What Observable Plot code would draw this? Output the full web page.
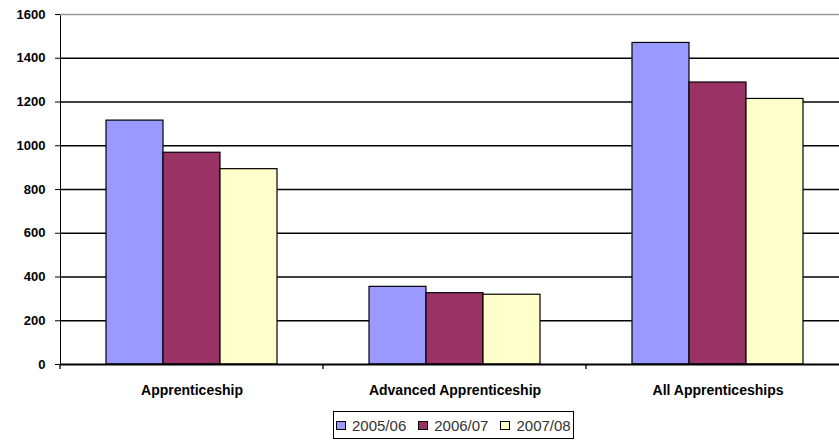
<!DOCTYPE html>
<html>
<head>
<meta charset="utf-8">
<script src="https://cdn.jsdelivr.net/npm/d3@7"></script>
<script src="https://cdn.jsdelivr.net/npm/@observablehq/plot@0.6"></script>
<style>
  html, body { margin: 0; padding: 0; background: #fff; }
  #wrap { position: relative; width: 839px; height: 442px; overflow: hidden; font-family: "Liberation Sans", Arial, sans-serif; }
  #chart svg { display: block; overflow: visible; }
  g[aria-label="fx-axis tick label"] { font: bold 14px "Liberation Sans", Arial, sans-serif; }
  g[aria-label="y-axis tick label"] { font: bold 13px "Liberation Sans", Arial, sans-serif; }
  #legend { position: absolute; left: 333px; top: 411px; width: 237px; height: 26px; border: 1.3px solid #000;
            display: flex; align-items: center; padding-left: 2px; gap: 12px; font-size: 15px; color: #333; }
  #legend .item { display: flex; align-items: center; }
  #legend .sw { width: 8px; height: 7px; border: 1px solid #000; margin-right: 6px; }
</style>
</head>
<body>
<div id="wrap">
  <div id="chart"></div>
  <div id="legend"></div>
</div>
<script>
const categories = ["Apprenticeship", "Advanced Apprenticeship", "All Apprenticeships"];
const series = ["2005/06", "2006/07", "2007/08"];
const values2005 = [1115, 355, 1470];
const values2006 = [968, 326, 1289];
const values2007 = [893, 319, 1214];
const yTicks = [0, 200, 400, 600, 800, 1000, 1200, 1400, 1600];
const colors = ["#9999FF", "#993366", "#FFFFCC"];

const seriesValues = [values2005, values2006, values2007];
const data = [];
categories.forEach((c, i) => {
  series.forEach((s, j) => data.push({category: c, series: s, value: seriesValues[j][i]}));
});

const plot = Plot.plot({
  width: 839,
  height: 405,
  marginTop: 14,
  marginBottom: 41,
  marginLeft: 59,
  marginRight: -10,
  style: {color: "#000", background: "transparent"},
  fx: {domain: categories, padding: 0, label: null, tickSize: 0, tickPadding: 21, axis: "bottom"},
  x: {domain: series, paddingInner: 0, paddingOuter: 0.77, axis: null},
  y: {domain: [0, 1600], ticks: yTicks, tickSize: 5, tickPadding: 10, label: null, line: true, tickFormat: d => String(d)},
  color: {domain: series, range: colors},
  marks: [
    Plot.ruleY(yTicks.slice(1, -1), {stroke: "#000", strokeWidth: 1.3}),
    Plot.ruleY([yTicks[yTicks.length - 1]], {stroke: "#999", strokeWidth: 1.3}),
    Plot.barY(data, {fx: "category", x: "series", y: "value", fill: "series", stroke: "#000", strokeWidth: 1.2}),
    Plot.ruleY([0], {stroke: "#000", strokeWidth: 1.8})
  ]
});
document.getElementById("chart").appendChild(plot);

// category boundary ticks on the bottom axis, from the fx scale
const fx = plot.scale("fx");
const yScale = plot.scale("y");
const base = yScale.apply(0);
const bounds = categories.map(c => fx.apply(c));
bounds.push(fx.apply(categories[categories.length - 1]) + fx.step);
d3.select(plot).append("g")
  .selectAll("line").data(bounds).join("line")
  .attr("x1", d => d).attr("x2", d => d)
  .attr("y1", base).attr("y2", base + 5)
  .attr("stroke", "#000").attr("stroke-width", 1.3);

// legend
const legend = d3.select("#legend");
series.forEach((s, i) => {
  const it = legend.append("div").attr("class", "item");
  it.append("div").attr("class", "sw").style("background", colors[i]);
  it.append("span").text(s);
});
</script>
</body>
</html>
